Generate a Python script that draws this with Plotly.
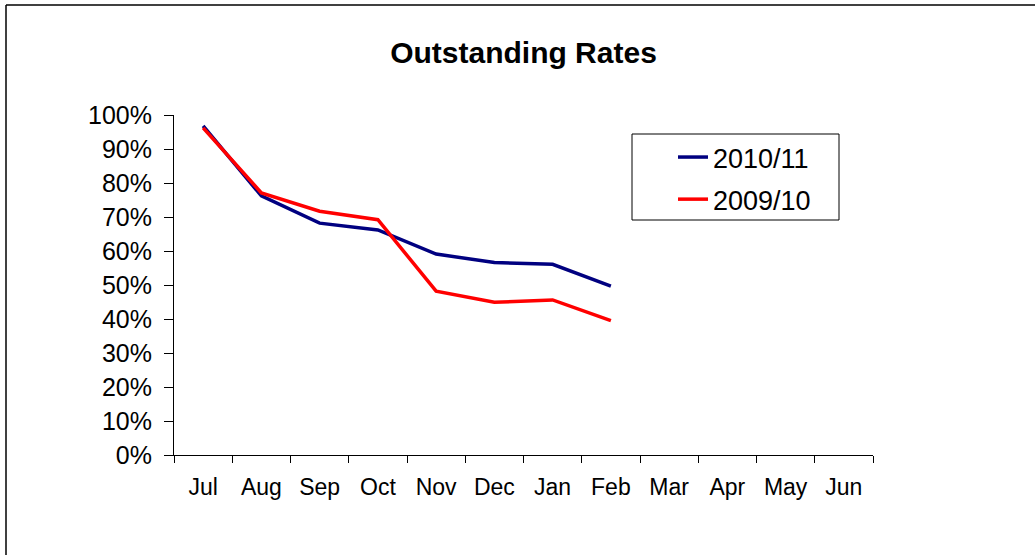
import plotly.graph_objects as go

months = ["Jul", "Aug", "Sep", "Oct", "Nov", "Dec", "Jan", "Feb", "Mar", "Apr", "May", "Jun"]
s2010_11 = [0.968, 0.762, 0.682, 0.662, 0.591, 0.566, 0.561, 0.497]
s2009_10 = [0.962, 0.771, 0.717, 0.692, 0.482, 0.449, 0.456, 0.395]

W, H = 1035, 555
L, R, T, B = 174, 162, 115, 100
pw, ph = W - L - R, H - T - B


def px_x(v):
    return (v - L) / pw


def px_y(v):
    return (H - B - v) / ph


fig = go.Figure()
fig.add_trace(go.Scatter(x=months[:len(s2010_11)], y=s2010_11, mode="lines", name="2010/11",
                         legendgroup="a", line=dict(color="#000080", width=3.5)))
fig.add_trace(go.Scatter(x=months[:len(s2009_10)], y=s2009_10, mode="lines", name="2009/10",
                         legendgroup="b", line=dict(color="#FF0000", width=3.5)))

fig.update_layout(
    width=W, height=H,
    margin=dict(l=L, r=R, t=T, b=B),
    paper_bgcolor="white", plot_bgcolor="white",
    font=dict(family="Liberation Sans, Arial, sans-serif", color="black", size=23),
    title=dict(text="<b>Outstanding Rates</b>", x=0.5, xanchor="center", xref="paper",
               y=1 - 52 / H, yanchor="middle", font=dict(size=30)),
    showlegend=True,
    legend=dict(x=px_x(673), y=px_y(133), xanchor="left", yanchor="top",
                borderwidth=0, bgcolor="rgba(0,0,0,0)",
                font=dict(size=27), tracegroupgap=4),
    xaxis=dict(type="category", categoryorder="array", categoryarray=months,
               range=[-0.5, 11.5], tickmode="array", tickvals=months,
               tickson="boundaries", ticks="outside", ticklen=7, tickcolor="black",
               showline=True, linecolor="black", linewidth=1, showgrid=False,
               zeroline=False, ticklabelstandoff=11, fixedrange=True),
    yaxis=dict(range=[0, 1], dtick=0.1, tickformat=".0%", ticks="outside", ticklen=9,
               tickcolor="black", showline=True, linecolor="black", linewidth=1,
               showgrid=False, zeroline=False, ticklabelstandoff=7,
               tickfont=dict(size=25), fixedrange=True),
    shapes=[
        dict(type="line", xref="paper", yref="paper",
             x0=px_x(6), x1=px_x(W + 5), y0=px_y(5), y1=px_y(5),
             line=dict(color="black", width=1.5)),
        dict(type="line", xref="paper", yref="paper",
             x0=px_x(6), x1=px_x(6), y0=px_y(5), y1=px_y(H + 5),
             line=dict(color="black", width=1.5)),
        dict(type="rect", xref="paper", yref="paper",
             x0=px_x(632), x1=px_x(839), y0=px_y(134), y1=px_y(220),
             line=dict(color="black", width=1), fillcolor="white", layer="above"),
    ],
)

fig.write_html("out.html", config={"displayModeBar": False})
